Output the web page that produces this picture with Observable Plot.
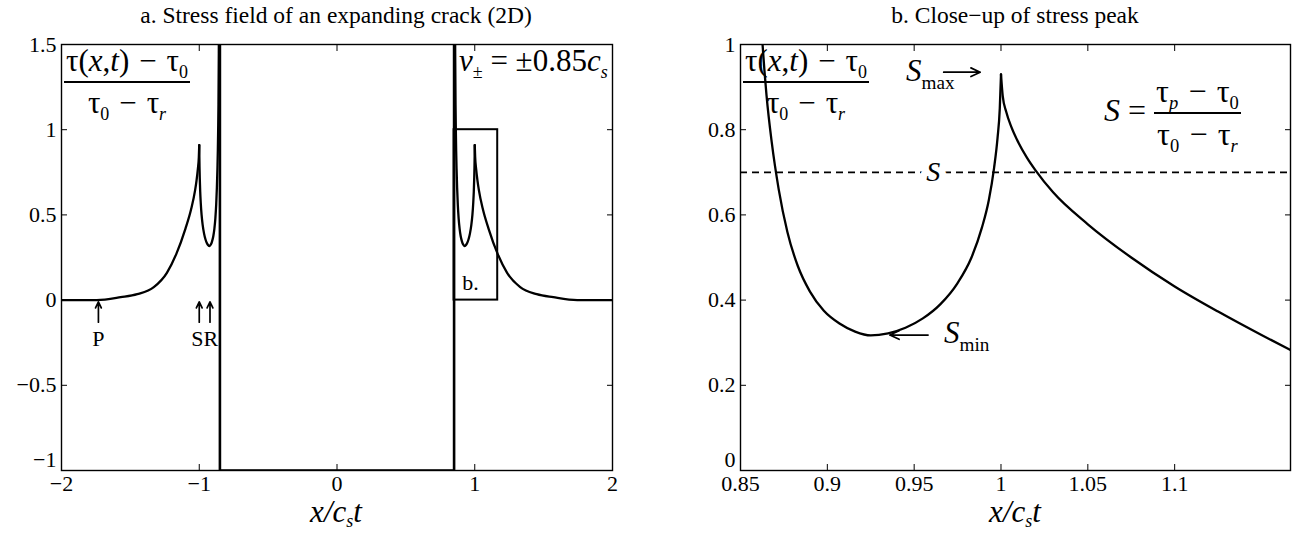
<!DOCTYPE html>
<html>
<head>
<meta charset="utf-8">
<script src="https://cdn.jsdelivr.net/npm/d3@7"></script>
<script src="https://cdn.jsdelivr.net/npm/@observablehq/plot@0.6"></script>
<style>
  html, body { margin: 0; padding: 0; background: #fff; }
  #wrap { position: relative; width: 1294px; height: 533px; overflow: hidden; font-family: "Liberation Serif", serif; color: #000; }
  .panel { position: absolute; top: 0; }
  .title { position: absolute; top: 0px; font-size: 23.5px; line-height: 30px; text-align: center; white-space: nowrap; transform: translateX(-50%); }
  .xlab { position: absolute; top: 499px; font-size: 31px; line-height: 26px; font-style: italic; white-space: nowrap; transform: translateX(-50%); }
  .xlab sub { top: 0.3em; }
  .ann { position: absolute; font-size: 31px; line-height: 1.1; white-space: nowrap; }
  .fr { display: inline-block; text-align: center; vertical-align: middle; }
  .num { border-bottom: 2px solid #000; padding: 0 2px 3px; }
  .den { padding-top: 3px; }
  sub { font-size: 0.58em; vertical-align: baseline; position: relative; top: 0.38em; }
  .sp { margin: 0 0.32em; }
</style>
</head>
<body>
<div id="wrap">
  <div class="title" style="left:336px">a. Stress field of an expanding crack (2D)</div>
  <div class="title" style="left:1015px">b. Close−up of stress peak</div>
  <div class="xlab" style="left:336px"><i>x</i>/<i>c</i><sub>s</sub><i>t</i></div>
  <div class="xlab" style="left:1015px"><i>x</i>/<i>c</i><sub>s</sub><i>t</i></div>
</div>
<script>
// ---------- data ----------
// panel a: stress profile, split in smooth pieces (seg) at the S-wave cusps
const xA = [-2.0, -1.744, -1.57, -1.45, -1.33, -1.235, -1.167, -1.1, -1.06, -1.03, -1.02, -1.01, -1.003, -1.0,
  -1.0, -0.9993, -0.998, -0.996, -0.993, -0.989, -0.983, -0.975, -0.965, -0.955, -0.945, -0.935, -0.925, -0.916, -0.907, -0.898, -0.89, -0.883, -0.877, -0.872, -0.868, -0.865, -0.8627, -0.8605, -0.858, -0.8505,
  0.8505, 0.858, 0.8605, 0.8627, 0.865, 0.868, 0.872, 0.877, 0.883, 0.89, 0.898, 0.907, 0.916, 0.925, 0.935, 0.945, 0.955, 0.965, 0.975, 0.983, 0.989, 0.993, 0.996, 0.998, 0.9993, 1.0,
  1.0, 1.003, 1.01, 1.02, 1.03, 1.06, 1.1, 1.167, 1.235, 1.33, 1.45, 1.57, 1.744, 2.0];
const yA = [0, 0, 0.017, 0.035, 0.076, 0.16, 0.27, 0.42, 0.53, 0.645, 0.70, 0.77, 0.84, 0.91,
  0.91, 0.85, 0.78, 0.71, 0.635, 0.57, 0.50, 0.44, 0.39, 0.357, 0.335, 0.322, 0.317, 0.326, 0.345, 0.375, 0.42, 0.48, 0.56, 0.66, 0.77, 0.88, 1.0, 1.15, 1.45, 3,
  3, 1.45, 1.15, 1.0, 0.88, 0.77, 0.66, 0.56, 0.48, 0.42, 0.375, 0.345, 0.326, 0.317, 0.322, 0.335, 0.357, 0.39, 0.44, 0.50, 0.57, 0.635, 0.71, 0.78, 0.85, 0.91,
  0.91, 0.84, 0.77, 0.70, 0.645, 0.53, 0.42, 0.27, 0.16, 0.076, 0.035, 0.017, 0, 0];
const segA = [0,0,0,0,0,0,0,0,0,0,0,0,0,0,
  1,1,1,1,1,1,1,1,1,1,1,1,1,1,1,1,1,1,1,1,1,1,1,1,1,1,
  2,2,2,2,2,2,2,2,2,2,2,2,2,2,2,2,2,2,2,2,2,2,2,2,2,2,
  3,3,3,3,3,3,3,3,3,3,3,3,3,3];
// panel a: the slipping crack, stress drops to residual level
const xCrack = [-0.85, -0.85, 0.85, 0.85];
const yCrack = [3, -1, -1, 3];

// panel b: close-up of the right stress peak
const xB = [0.858, 0.8605, 0.8627, 0.865, 0.868, 0.872, 0.877, 0.883, 0.89, 0.898, 0.907, 0.916, 0.925, 0.935, 0.945, 0.955, 0.965, 0.975, 0.983, 0.989, 0.993, 0.996, 0.998, 0.9993, 1.0,
  1.0, 1.001, 1.003, 1.006, 1.01, 1.015, 1.02, 1.03, 1.05, 1.075, 1.1, 1.125, 1.15, 1.1667];
const yB = [1.45, 1.15, 1.0, 0.88, 0.77, 0.66, 0.56, 0.48, 0.42, 0.375, 0.345, 0.326, 0.317, 0.322, 0.335, 0.357, 0.39, 0.44, 0.50, 0.57, 0.635, 0.71, 0.78, 0.85, 0.93,
  0.93, 0.879, 0.842, 0.806, 0.77, 0.734, 0.704, 0.653, 0.578, 0.50, 0.432, 0.373, 0.318, 0.283];
const segB = [0,0,0,0,0,0,0,0,0,0,0,0,0,0,0,0,0,0,0,0,0,0,0,0,0,
  1,1,1,1,1,1,1,1,1,1,1,1,1,1];

const xTicksA = [-2, -1, 0, 1, 2];
const yTicksA = [-1, -0.5, 0, 0.5, 1, 1.5];
const xTicksB = [0.85, 0.9, 0.95, 1, 1.05, 1.1];
const yTicksB = [0, 0.2, 0.4, 0.6, 0.8, 1];

// wave-front markers in panel a (P, S, R)
const waveX = [-1.732, -1.0, -0.922];
const waveLabels = [{x: -1.732, label: "P"}, {x: -0.96, label: "SR"}];
// close-up box in panel a
const boxB = [{x1: 0.85, x2: 1.1667, y1: 0, y2: 1}];
const boxLabel = [{x: 0.97, y: 0.1, label: "b."}];
// panel b markers
const sLevel = [0.7];
const smaxArrow = [{x1: 0.967, x2: 0.988, y: 0.935}];
const sminArrow = [{x1: 0.958, x2: 0.936, y: 0.318}];
const sLabel = [{x: 0.961, y: 0.7, label: "S"}];

// ---------- helpers ----------
const fmt = d => (d < 0 ? "−" : "") + String(Math.abs(d));
const font = "Liberation Serif";
function axes(xt, yt) {
  const ymin = yt[0];
  return [
    Plot.axisX(xt, {anchor: "bottom", tickSize: 0, tickPadding: 5, tickFormat: fmt, fontSize: 22, label: null}),
    Plot.axisX(xt, {anchor: "bottom", tickSize: 6, dy: -6, tickFormat: () => "", label: null}),
    Plot.axisX(xt, {anchor: "top", tickSize: 6, dy: 6, tickFormat: () => "", label: null}),
    Plot.axisY(yt.slice(1), {anchor: "left", tickSize: 0, tickPadding: 5, tickFormat: fmt, fontSize: 22, label: null}),
    Plot.axisY([ymin], {anchor: "left", tickSize: 0, tickPadding: 5, dy: -11, tickFormat: fmt, fontSize: 22, label: null}),
    Plot.axisY(yt, {anchor: "left", tickSize: 6, dx: 6, tickFormat: () => "", label: null}),
    Plot.axisY(yt, {anchor: "right", tickSize: 6, dx: -6, tickFormat: () => "", label: null})
  ];
}

const dataA = xA.map((x, i) => ({x, y: yA[i], seg: segA[i]}));
const crack = xCrack.map((x, i) => ({x, y: yCrack[i]}));
const dataB = xB.map((x, i) => ({x, y: yB[i], seg: segB[i]}));

const plotA = Plot.plot({
  width: 647, height: 533,
  marginLeft: 61, marginRight: 35, marginTop: 44, marginBottom: 63,
  x: {domain: [-2, 2], label: null},
  y: {domain: [-1, 1.5], label: null},
  style: {fontFamily: font, fontSize: "22px", color: "#000", background: "transparent", overflow: "visible"},
  marks: [
    Plot.rect(boxB, {x1: "x1", x2: "x2", y1: "y1", y2: "y2", fill: "none", stroke: "#000", strokeWidth: 2}),
    Plot.text(boxLabel, {x: "x", y: "y", text: "label", fontSize: 22}),
    Plot.line(dataA, {x: "x", y: "y", z: "seg", curve: "monotone-x", stroke: "#000", strokeWidth: 2.3, clip: true}),
    Plot.line(crack, {x: "x", y: "y", curve: "linear", stroke: "#000", strokeWidth: 2.6, clip: true, strokeLinejoin: "miter"}),
    Plot.arrow(waveX, {x1: d => d, x2: d => d, y1: -0.13, y2: -0.01, stroke: "#000", strokeWidth: 1.7, headLength: 8, headAngle: 50}),
    Plot.text(waveLabels, {x: "x", y: -0.23, text: "label", fontSize: 22}),
    Plot.frame({stroke: "#000", strokeWidth: 1.4}),
    ...axes(xTicksA, yTicksA)
  ]
});

const plotB = Plot.plot({
  width: 647, height: 533,
  marginLeft: 93, marginRight: 4, marginTop: 44, marginBottom: 63,
  x: {domain: [0.85, 1.1667], label: null},
  y: {domain: [0, 1], label: null},
  style: {fontFamily: font, fontSize: "22px", color: "#000", background: "transparent", overflow: "visible"},
  marks: [
    Plot.ruleY(sLevel, {stroke: "#000", strokeWidth: 1.7, strokeDasharray: "7,5"}),
    Plot.text(sLabel, {x: "x", y: "y", text: "label", fontSize: 28, fontStyle: "italic", stroke: "#fff", strokeWidth: 14, fill: "#000", paintOrder: "stroke"}),
    Plot.line(dataB, {x: "x", y: "y", z: "seg", curve: "monotone-x", stroke: "#000", strokeWidth: 2.3, clip: true}),
    Plot.arrow(smaxArrow, {x1: "x1", x2: "x2", y1: "y", y2: "y", stroke: "#000", strokeWidth: 1.7, headLength: 9, headAngle: 50}),
    Plot.arrow(sminArrow, {x1: "x1", x2: "x2", y1: "y", y2: "y", stroke: "#000", strokeWidth: 1.7, headLength: 9, headAngle: 50}),
    Plot.frame({stroke: "#000", strokeWidth: 1.4}),
    ...axes(xTicksB, yTicksB)
  ]
});

const wrap = document.getElementById("wrap");
plotA.classList.add("panel"); plotA.style.left = "0px";
plotB.classList.add("panel"); plotB.style.left = "647px";
wrap.insertBefore(plotB, wrap.firstChild);
wrap.insertBefore(plotA, wrap.firstChild);

// math annotations (HTML text over the plots)
const fracTau = '<div class="fr"><div class="num">τ(<i>x</i>,<i>t</i>)<span class="sp">−</span>τ<sub>0</sub></div><div class="den">τ<sub>0</sub><span class="sp">−</span>τ<sub><i>r</i></sub></div></div>';
const anns = [
  {left: 64, top: 44, size: 31, html: fracTau},
  {left: 743, top: 44, size: 31, html: fracTau},
  {left: 459, top: 44, size: 31, html: '<i>v</i><sub>±</sub> = ±0.85<i>c</i><sub><i>s</i></sub>'},
  {left: 1104, top: 74, size: 32, html: '<i>S</i> = <div class="fr"><div class="num">τ<sub><i>p</i></sub><span class="sp">−</span>τ<sub>0</sub></div><div class="den">τ<sub>0</sub><span class="sp">−</span>τ<sub><i>r</i></sub></div></div>'},
  {left: 906, top: 54, size: 31, html: '<i>S</i><sub style="font-size:0.62em;top:0.42em;font-style:normal">max</sub>'},
  {left: 944, top: 316, size: 31, html: '<i>S</i><sub style="font-size:0.62em;top:0.42em;font-style:normal">min</sub>'}
];
for (const a of anns) {
  const d = document.createElement("div");
  d.className = "ann";
  d.style.left = a.left + "px";
  d.style.top = a.top + "px";
  d.style.fontSize = a.size + "px";
  d.innerHTML = a.html;
  wrap.appendChild(d);
}
</script>
</body>
</html>
